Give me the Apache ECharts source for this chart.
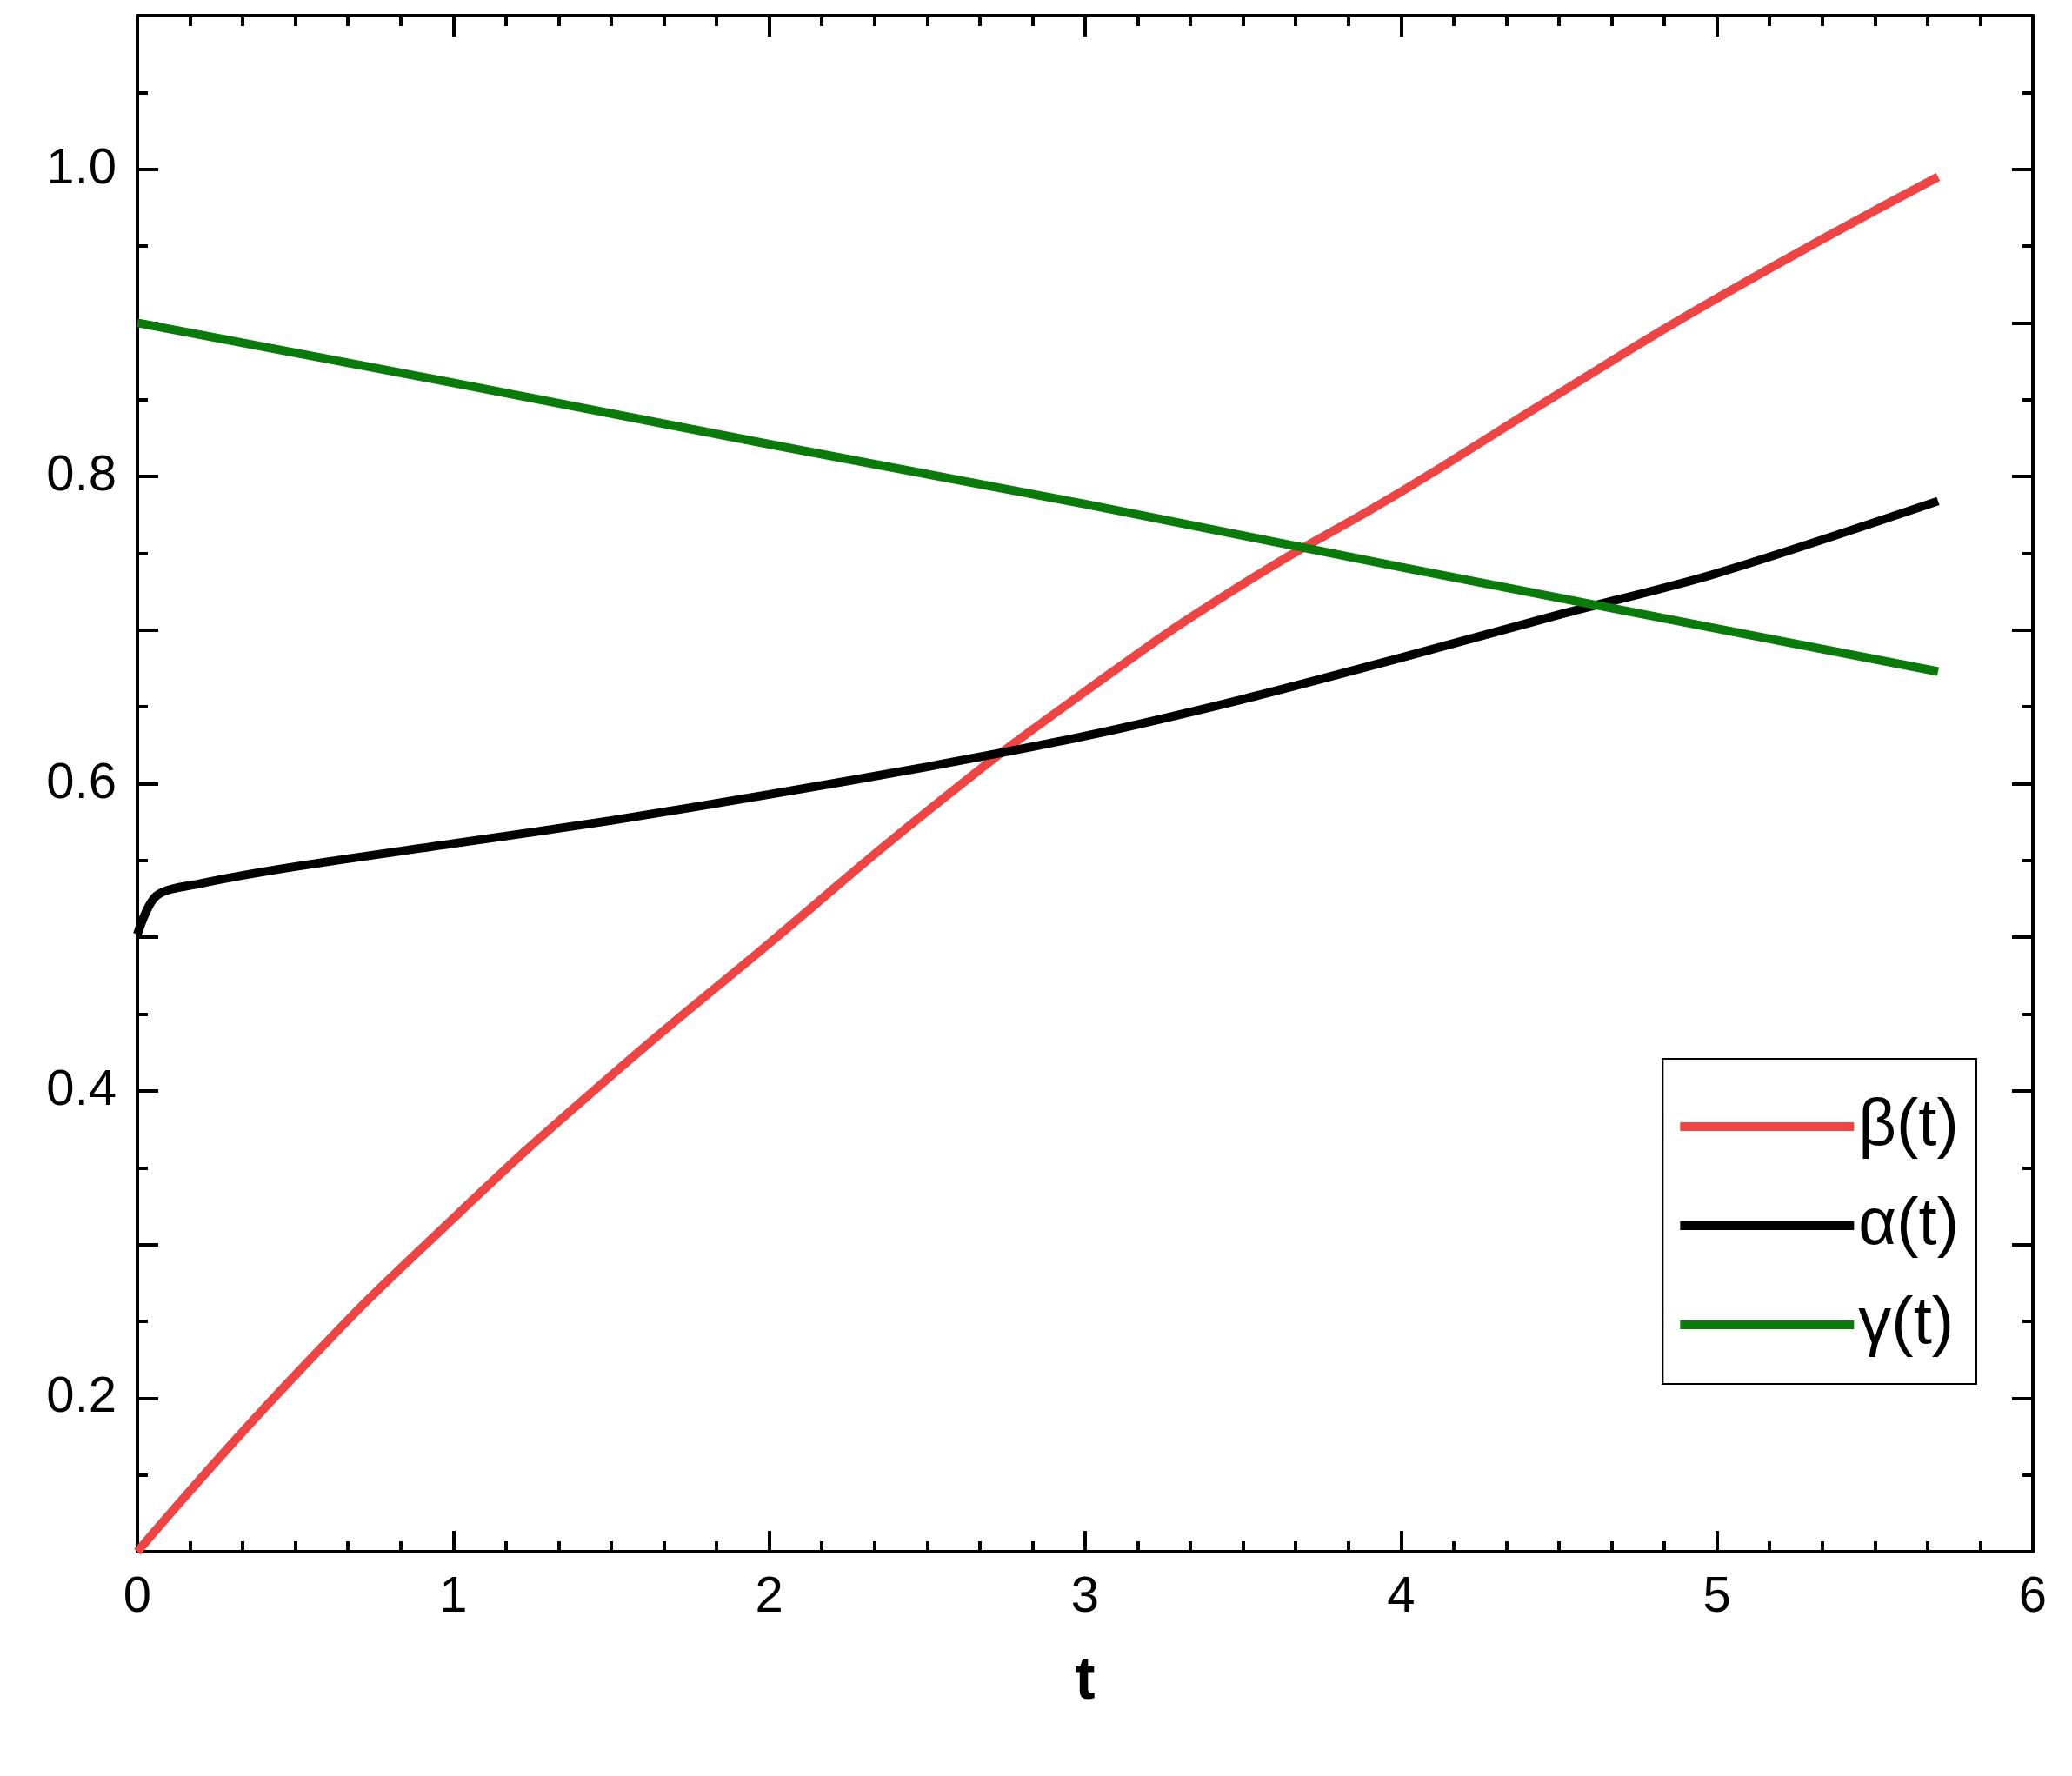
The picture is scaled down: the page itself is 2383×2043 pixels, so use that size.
<!DOCTYPE html>
<html><head><meta charset="utf-8">
<script src="https://cdn.jsdelivr.net/npm/echarts@6/dist/echarts.min.js"></script>
<style>html,body{margin:0;background:#fff}#c{width:2383px;height:2043px}</style>
</head><body><div id="c"></div>
<script>
"use strict";
const betaT = [0, 0.5, 1, 1.5, 2, 2.5, 3, 3.5, 4, 4.5, 5, 5.7];
const betaV = [0.1, 0.215, 0.317, 0.41, 0.496, 0.582, 0.66, 0.73, 0.79, 0.854, 0.916, 0.995];
const alphaT = [0, 0.06, 0.2, 0.5, 1, 1.5, 2, 2.5, 3, 3.5, 4, 4.5, 5, 5.7];
const alphaV = [0.502, 0.527, 0.535, 0.546, 0.561, 0.576, 0.593, 0.611, 0.631, 0.655, 0.682, 0.71, 0.737, 0.784];
const gammaT = [0, 1, 2, 3, 4, 5, 5.7];
const gammaV = [0.9, 0.861, 0.821, 0.782, 0.741, 0.701, 0.673];
const xTicks = [0, 1, 2, 3, 4, 5, 6];
const yLabels = ["0.2", "0.4", "0.6", "0.8", "1.0"];

const zip = (xs, ys) => xs.map((x, i) => [x, ys[i]]);
const font = "Arial, 'Liberation Sans', sans-serif";
const tickStyle = { color: "#000", width: 4 };
const axisBase = (extra) => ({
  axisLine: { show: true, onZero: false, lineStyle: { color: "#000", width: 4 } },
  axisTick: { show: true, inside: true, length: 24, lineStyle: tickStyle },
  minorTick: { show: true, length: 12, lineStyle: tickStyle },
  splitLine: { show: false },
  ...extra,
});
const chart = echarts.init(document.getElementById("c"), null, { renderer: "canvas" });
chart.setOption({
  animation: false,
  backgroundColor: "#fff",
  grid: { left: 158, right: 45, top: 18, bottom: 258 },
  xAxis: [
    axisBase({ type: "value", min: 0, max: 6, interval: 1, name: "t", nameLocation: "middle", nameGap: 115,
      nameTextStyle: { fontFamily: font, fontSize: 70, fontWeight: "bold", color: "#000" },
      minorTick: { show: true, splitNumber: 6, length: 12, lineStyle: tickStyle },
      axisLabel: { fontFamily: font, fontSize: 58, color: "#000", margin: 24, formatter: (v) => xTicks.includes(v) ? String(v) : "" } }),
    axisBase({ type: "value", min: 0, max: 6, interval: 1, position: "top",
      minorTick: { show: true, splitNumber: 6, length: 12, lineStyle: tickStyle }, axisLabel: { show: false } }),
  ],
  yAxis: [
    axisBase({ type: "value", min: 0.1, max: 1.1, interval: 0.1,
      minorTick: { show: true, splitNumber: 2, length: 12, lineStyle: tickStyle },
      axisLabel: { fontFamily: font, fontSize: 58, color: "#000", margin: 24,
        formatter: (v) => { const s = v.toFixed(1); return yLabels.includes(s) ? s : ""; } } }),
    axisBase({ type: "value", min: 0.1, max: 1.1, interval: 0.1, position: "right",
      minorTick: { show: true, splitNumber: 2, length: 12, lineStyle: tickStyle }, axisLabel: { show: false } }),
  ],
  legend: {
    orient: "vertical", right: 110, top: 1218, padding: [40, 20, 30, 20], itemGap: 38,
    borderColor: "#000", borderWidth: 2, itemWidth: 200, itemHeight: 10,
    icon: "rect", textStyle: { fontFamily: font, fontSize: 76, color: "#000" },
    data: ["β(t)", "α(t)", "γ(t)"],
  },
  series: [
    { name: "β(t)", type: "line", showSymbol: false, smooth: true, data: zip(betaT, betaV), lineStyle: { color: "#ee4444", width: 10 }, itemStyle: { color: "#ee4444" } },
    { name: "α(t)", type: "line", showSymbol: false, smooth: 0.3, data: zip(alphaT, alphaV), lineStyle: { color: "#000", width: 10 }, itemStyle: { color: "#000" } },
    { name: "γ(t)", type: "line", showSymbol: false, data: zip(gammaT, gammaV), lineStyle: { color: "#0a7a0a", width: 10 }, itemStyle: { color: "#0a7a0a" } },
  ],
});
</script></body></html>
